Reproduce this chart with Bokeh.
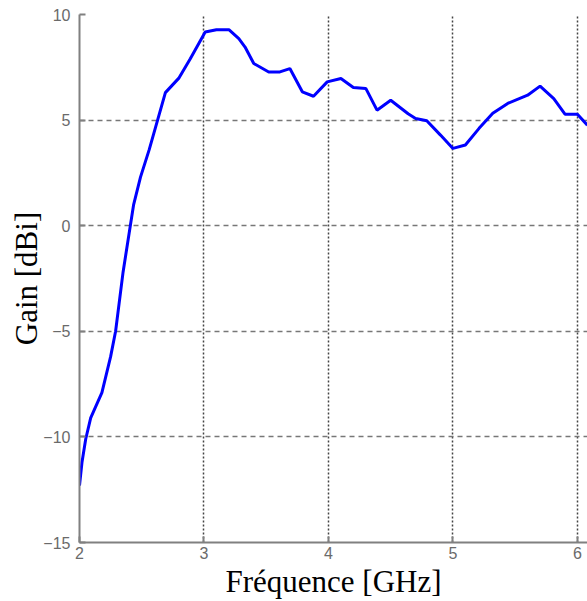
from bokeh.plotting import figure
from bokeh.models import Range1d, FixedTicker
from bokeh.embed import file_html
from bokeh.resources import INLINE

freq = [2.00, 2.02, 2.05, 2.09, 2.18, 2.25, 2.29, 2.35, 2.395, 2.435, 2.49, 2.56,
        2.69, 2.80, 2.89, 3.01, 3.10, 3.20, 3.28, 3.33, 3.40, 3.52, 3.61, 3.69,
        3.79, 3.88, 3.99, 4.10, 4.20, 4.30, 4.39, 4.50, 4.64, 4.70, 4.79, 4.90,
        5.00, 5.10, 5.21, 5.32, 5.44, 5.60, 5.70, 5.81, 5.90, 6.00, 6.08]
gain = [-12.3, -11.2, -10.1, -9.1, -7.9, -6.2, -5.0, -2.2, -0.5, 1.0, 2.3, 3.6,
        6.3, 7.0, 7.9, 9.17, 9.28, 9.28, 8.86, 8.46, 7.68, 7.28, 7.28, 7.44,
        6.34, 6.13, 6.81, 6.97, 6.54, 6.50, 5.47, 5.94, 5.3, 5.08, 4.97, 4.29,
        3.66, 3.82, 4.61, 5.32, 5.79, 6.18, 6.61, 6.02, 5.28, 5.28, 4.76]

x_ticks = [2, 3, 4, 5, 6]
y_ticks = [-15, -10, -5, 0, 5, 10]

p = figure(width=587, height=601, output_backend="svg", toolbar_location=None,
           x_range=Range1d(2, 6.081), y_range=Range1d(-15, 10),
           min_border_left=79, min_border_top=14, min_border_right=0, min_border_bottom=57)
p.outline_line_color = None
p.background_fill_color = "white"

p.line(freq, gain, line_color="#0000ff", line_width=3)

p.xaxis.ticker = FixedTicker(ticks=x_ticks)
p.yaxis.ticker = FixedTicker(ticks=y_ticks)
for ax in (p.xaxis, p.yaxis):
    ax.axis_line_color = "#808080"
    ax.axis_line_width = 2
    ax.major_tick_line_color = "#808080"
    ax.major_tick_line_width = 2
    ax.major_tick_in = 6
    ax.major_tick_out = 0
    ax.minor_tick_line_color = None
    ax.major_label_text_font = "Liberation Sans"
    ax.major_label_text_font_size = "16px"
    ax.major_label_text_color = "#6a6a6a"
    ax.axis_label_text_font = "Liberation Serif"
    ax.axis_label_text_font_size = "31px"
    ax.axis_label_text_font_style = "normal"
    ax.axis_label_text_color = "black"

p.xaxis.axis_label = "Fréquence [GHz]"
p.yaxis.axis_label = "Gain [dBi]"
p.xaxis.major_label_standoff = 4
p.yaxis.major_label_standoff = 9
p.xaxis.axis_label_standoff = 2
p.yaxis.axis_label_standoff = -4

p.xgrid.grid_line_color = "#444444"
p.xgrid.grid_line_dash = "2 2"
p.xgrid.grid_line_width = 1.5
p.ygrid.grid_line_color = "#777777"
p.ygrid.grid_line_dash = "5 4"
p.ygrid.grid_line_width = 1.5

open("out.html", "w").write(file_html(p, INLINE))
